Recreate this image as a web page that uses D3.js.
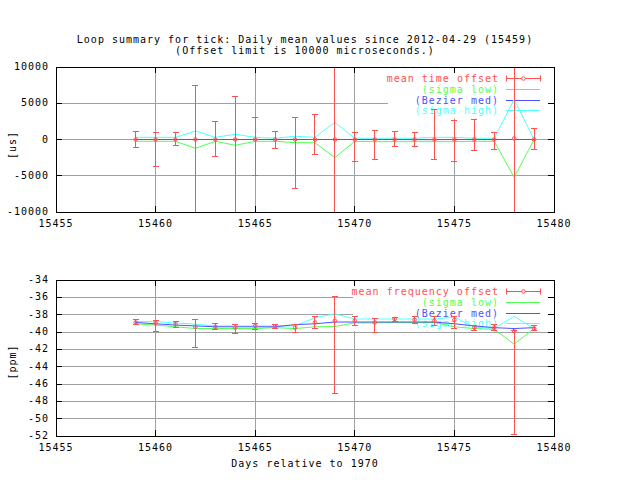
<!DOCTYPE html>
<html>
<head>
<meta charset="utf-8">
<script src="https://cdn.jsdelivr.net/npm/d3@7"></script>
<style>
  body { margin: 0; background: #fff; }
  text { font-family: "DejaVu Sans Mono", monospace; font-size: 10px; letter-spacing: 1px; }
  .crisp { shape-rendering: crispEdges; }
</style>
</head>
<body>
<div id="container"></div>
<script>

// Days relative to 1970
const days = [15459, 15460, 15461, 15462, 15463, 15464, 15465, 15466, 15467, 15468,
              15469, 15470, 15471, 15472, 15473, 15474, 15475, 15476, 15477, 15478, 15479];

// Time offset [us]
const timeMean = [0, 0, 0, 0, 0, 0, 0, 0, 0, 0, 0, 0, 0, 0, 0, 0, 0, 0, 0, 150, 0];
const timeLow  = [-1070, -3700, -800, -12000, -2300, -12000, -4940, -1210, -6690, -2040,
                  -12000, -2970, -2690, -940, -940, -2690, -2970, -1490, -1350, -12000, -1350];
const timeHigh = [1130, 990, 990, 7470, 2500, 5960, 3060, 1130, 3060, 3470,
                  12000, 990, 1270, 1130, 1000, 4160, 2640, 2780, 990, 12000, 1540];
const timeSigmaLow  = [-250, -250, -250, -1210, -250, -800, -250, -250, -440, -440,
                       -2500, -250, -300, -300, -300, -300, -300, -250, -250, -5210, 0];
const timeMed       = [0, 0, 0, 0, 0, 0, 0, 0, 0, 0, 0, 0, 0, 0, -20, -20, 0, 0, 0, 0, 0];
const timeSigmaHigh = [300, 300, 300, 1170, 300, 720, 300, 170, 440, 300,
                       2370, 170, 170, 170, 170, 300, 300, 170, 170, 5540, 0];

// Frequency offset [ppm]
const freqMean = [-38.9, -39.0, -39.1, -39.4, -39.4, -39.5, -39.3, -39.35, -39.5, -38.9,
                  -38.7, -38.7, -38.9, -38.5, -38.6, -38.7, -38.6, -39.5, -39.5, -39.9, -39.6];
const freqLow  = [-39.17, -39.98, -39.44, -41.77, -39.7, -40.2, -39.75, -39.6, -40.0, -39.6,
                  -47.1, -39.23, -40.0, -38.77, -39.0, -39.23, -39.6, -39.77, -39.77, -51.8, -39.85];
const freqHigh = [-38.52, -38.64, -38.75, -38.6, -38.99, -39.1, -39.0, -39.1, -39.1, -38.25,
                  -35.92, -38.2, -38.43, -38.3, -38.2, -38.2, -38.2, -39.23, -39.1, -39.85, -39.27];
const freqSigmaLow  = [-39.05, -39.2, -39.4, -39.6, -39.6, -39.6, -39.6, -39.5, -39.6, -39.4,
                       -39.37, -38.95, -38.95, -38.9, -38.9, -38.9, -39.4, -39.6, -39.7, -41.4, -39.6];
const freqMed       = [-38.9, -39.05, -39.2, -39.3, -39.4, -39.4, -39.4, -39.4, -39.15, -39.05,
                       -38.85, -38.85, -38.85, -38.85, -38.85, -38.85, -39.05, -39.3, -39.5, -39.6, -39.5];
const freqSigmaHigh = [-38.8, -38.8, -38.95, -39.1, -39.3, -39.3, -39.3, -39.3, -39.3, -38.35,
                       -37.9, -38.5, -38.5, -38.5, -38.5, -38.5, -38.3, -39.45, -39.6, -38.2, -39.6];

// Tick values
const xTicks = [15455, 15460, 15465, 15470, 15475, 15480];
const timeTicks = [-10000, -5000, 0, 5000, 10000];
const freqTicks = [-52, -50, -48, -46, -44, -42, -40, -38, -36, -34];

const titleLines = ["Loop summary for tick: Daily mean values since 2012-04-29 (15459)",
                    "(Offset limit is 10000 microseconds.)"];

const width = 640;
const height = 480;

const red = "#ff5050", green = "#50ff50", blue = "#5050ff", cyan = "#50ffff";
const gridColor = "#a0a0a0";

const svg = d3.create("svg")
    .attr("width", width)
    .attr("height", height);

container.append(svg.node());

// Shared x scale
const x = d3.scaleLinear()
    .domain([15455, 15480])
    .range([56, 554]);

// Title
svg.append("g").selectAll("text")
  .data(titleLines)
  .join("text")
    .attr("x", 305)
    .attr("y", (d, i) => 40 + i * 11)
    .attr("text-anchor", "middle")
    .attr("dominant-baseline", "middle")
    .text(d => d);

function drawPanel(opt) {
  const y = d3.scaleLinear().domain(opt.domain).range([opt.bottom, opt.top]);
  const g = svg.append("g");
  const left = x.range()[0], right = x.range()[1];

  // grid
  g.append("g").attr("class", "crisp").selectAll("line")
    .data(xTicks.slice(1, -1))
    .join("line")
      .attr("x1", d => x(d)).attr("x2", d => x(d))
      .attr("y1", opt.top).attr("y2", opt.bottom)
      .attr("stroke", gridColor);
  g.append("g").attr("class", "crisp").selectAll("line")
    .data(opt.yTicks.slice(1, -1))
    .join("line")
      .attr("x1", left).attr("x2", right)
      .attr("y1", d => y(d)).attr("y2", d => y(d))
      .attr("stroke", gridColor);

  // opaque key box
  g.append("rect")
    .attr("x", opt.keyLeft).attr("y", opt.top)
    .attr("width", right - opt.keyLeft).attr("height", 4 * 10.8 + 8)
    .attr("fill", "#fff");

  const keys = [[opt.meanLabel, red], ["(sigma low)", green], ["(Bezier med)", blue], ["(sigma high)", cyan]];
  keys.forEach((k, i) => {
    const ky = Math.round(opt.top + 11 + i * 10.8) + 0.5;
    g.append("text")
      .attr("x", 499).attr("y", ky)
      .attr("text-anchor", "end")
      .attr("dominant-baseline", "middle")
      .attr("fill", k[1])
      .text(k[0]);
    g.append("line")
      .attr("x1", 506).attr("x2", 540)
      .attr("y1", ky).attr("y2", ky)
      .attr("stroke", k[1]);
    if (i == 0) {
      g.append("path")
        .attr("d", `M506.5,${ky - 3}V${ky + 3}M540.5,${ky - 3}V${ky + 3}`)
        .attr("stroke", red);
      g.append("circle")
        .attr("cx", 523.5).attr("cy", ky).attr("r", 1.8)
        .attr("fill", "#fff").attr("stroke", red);
    }
  });

  // data, clipped to the plot area
  const clipId = "clip" + opt.top;
  svg.append("clipPath").attr("id", clipId)
    .append("rect")
      .attr("x", left).attr("y", opt.top)
      .attr("width", right - left).attr("height", opt.bottom - opt.top);
  const data = g.append("g").attr("clip-path", `url(#${clipId})`);

  const line = d3.line().x((d, i) => x(days[i])).y(d => y(d));
  [[opt.sigmaLow, green], [opt.sigmaHigh, cyan], [opt.med, blue]].forEach(s => {
    data.append("path")
      .attr("d", line(s[0]))
      .attr("fill", "none")
      .attr("stroke", s[1]);
  });

  // error bars
  data.append("g").attr("class", "crisp").selectAll("path")
    .data(days)
    .join("path")
      .attr("d", (d, i) => {
        const cx = x(d), lo = y(opt.low[i]), hi = y(opt.high[i]);
        return `M${cx},${lo}V${hi}M${cx - 3},${lo}H${cx + 3}M${cx - 3},${hi}H${cx + 3}`;
      })
      .attr("fill", "none")
      .attr("stroke", red);
  data.append("g").selectAll("circle")
    .data(days)
    .join("circle")
      .attr("cx", d => x(d))
      .attr("cy", (d, i) => y(opt.mean[i]))
      .attr("r", 1.8)
      .attr("fill", "none")
      .attr("stroke", red);

  // border and ticks
  g.append("rect")
    .attr("class", "crisp")
    .attr("x", left).attr("y", opt.top)
    .attr("width", right - left).attr("height", opt.bottom - opt.top)
    .attr("fill", "none").attr("stroke", "#000");
  const tl = 6;
  g.append("path")
    .attr("class", "crisp")
    .attr("d", xTicks.map(t => `M${x(t)},${opt.bottom}v${-tl}M${x(t)},${opt.top}v${tl}`).join("") +
               opt.yTicks.map(t => `M${left},${y(t)}h${tl}M${right},${y(t)}h${-tl}`).join(""))
    .attr("stroke", "#000");

  // tick labels
  g.append("g").selectAll("text")
    .data(xTicks)
    .join("text")
      .attr("x", d => x(d))
      .attr("y", opt.bottom + 12)
      .attr("text-anchor", "middle")
      .attr("dominant-baseline", "middle")
      .text(d => d);
  g.append("g").selectAll("text")
    .data(opt.yTicks)
    .join("text")
      .attr("x", 49)
      .attr("y", d => y(d))
      .attr("text-anchor", "end")
      .attr("dominant-baseline", "middle")
      .text(d => d);

  // y axis label
  g.append("text")
    .attr("transform", `translate(13,${opt.labelY}) rotate(-90)`)
    .attr("text-anchor", "middle")
    .attr("dominant-baseline", "middle")
    .text(opt.yLabel);
}

drawPanel({
  top: 67, bottom: 212, domain: [-10000, 10000], yTicks: timeTicks,
  mean: timeMean, low: timeLow, high: timeHigh,
  sigmaLow: timeSigmaLow, med: timeMed, sigmaHigh: timeSigmaHigh,
  meanLabel: "mean time offset", keyLeft: 388, yLabel: "[us]", labelY: 145
});

drawPanel({
  top: 280, bottom: 436, domain: [-52, -34], yTicks: freqTicks,
  mean: freqMean, low: freqLow, high: freqHigh,
  sigmaLow: freqSigmaLow, med: freqMed, sigmaHigh: freqSigmaHigh,
  meanLabel: "mean frequency offset", keyLeft: 353, yLabel: "[ppm]", labelY: 362
});

// X axis label
svg.append("text")
    .attr("x", 305)
    .attr("y", 464)
    .attr("text-anchor", "middle")
    .attr("dominant-baseline", "middle")
    .text("Days relative to 1970");

</script>
</body>
</html>
